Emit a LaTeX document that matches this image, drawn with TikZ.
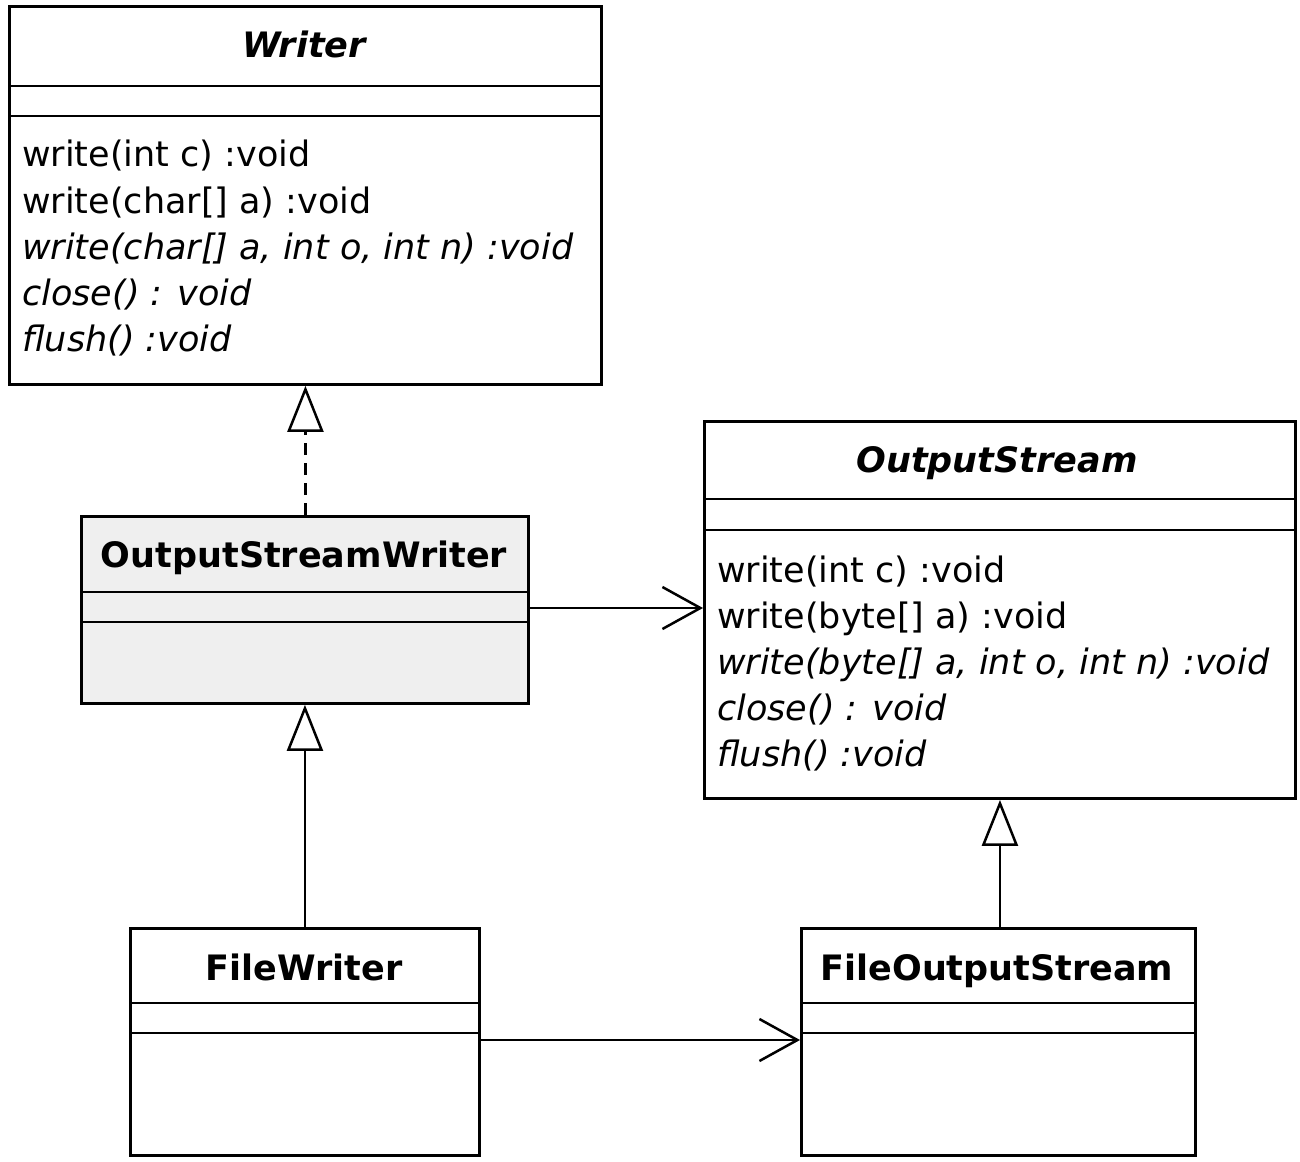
\documentclass[tikz,border=0pt]{standalone}
\usepackage{fontspec}
\setmainfont{DejaVu Sans}
\usetikzlibrary{arrows.meta}
\definecolor{boxgray}{RGB}{239,239,239}
\tikzset{
  umlbox/.style={draw=black, line width=2.9pt, fill=white, rectangle, inner sep=0pt, anchor=north west},
  sepline/.style={line width=2.8pt},
  conn/.style={line width=2.5pt},
  realize/.style={conn, dash pattern=on 12pt off 8pt, -{Triangle[open, length=46pt, width=36pt, line width=2.5pt]}},
  inherit/.style={conn, -{Triangle[open, length=46pt, width=36pt, line width=2.5pt]}},
  assoc/.style={conn, -{Straight Barb[length=38pt, width=42pt, line width=2.5pt]}},
  titletxt/.style={font=\fontsize{35}{35}\selectfont\bfseries, anchor=base},
  abstitle/.style={font=\fontsize{35}{35}\selectfont\bfseries\itshape, anchor=base},
  optxt/.style={font=\fontsize{35}{35}\selectfont, anchor=base west, inner sep=0pt},
  absop/.style={font=\fontsize{35}{35}\selectfont\itshape, anchor=base west, inner sep=0pt},
}
\begin{document}
\begin{tikzpicture}[x=1pt,y=-1pt]
\useasboundingbox (0,0) rectangle (1300,1161);
% Writer
\node[umlbox, minimum width=592pt, minimum height=378pt] (writer) at (8,5) {};
\draw[sepline] (8,86) -- (600,86);
\draw[sepline] (8,116) -- (600,116);
\node[abstitle] (writerT) at (304,58) {Writer};
\node[optxt] (w1) at (22,167) {write(int c) :void};
\node[optxt] (w2) at (22,213) {write(char[] a) :void};
\node[absop] (w3) at (22,259) {write(char[] a, int o, int n) :void};
\node[absop] (w4) at (22,305) {close() : void};
\node[absop] (w5) at (22,351) {flush() :void};
% OutputStream
\node[umlbox, minimum width=591pt, minimum height=377pt] (os) at (703,420) {};
\draw[sepline] (703,499) -- (1294,499);
\draw[sepline] (703,530) -- (1294,530);
\node[abstitle] (osT) at (997,472) {OutputStream};
\node[optxt] (o1) at (717,582) {write(int c) :void};
\node[optxt] (o2) at (717,628) {write(byte[] a) :void};
\node[absop] (o3) at (717,674) {write(byte[] a, int o, int n) :void};
\node[absop] (o4) at (717,720) {close() : void};
\node[absop] (o5) at (717,766) {flush() :void};
% OutputStreamWriter
\node[umlbox, fill=boxgray, minimum width=447pt, minimum height=187pt] (osw) at (80,515) {};
\draw[sepline] (80,592) -- (527,592);
\draw[sepline] (80,622) -- (527,622);
\node[titletxt] (oswT) at (304,567) {OutputStreamWriter};
% FileWriter
\node[umlbox, minimum width=349pt, minimum height=227pt] (fw) at (129,927) {};
\draw[sepline] (129,1003) -- (478,1003);
\draw[sepline] (129,1033) -- (478,1033);
\node[titletxt] (fwT) at (304,980) {FileWriter};
% FileOutputStream
\node[umlbox, minimum width=394pt, minimum height=227pt] (fos) at (800,927) {};
\draw[sepline] (800,1003) -- (1194,1003);
\draw[sepline] (800,1033) -- (1194,1033);
\node[titletxt] (fosT) at (997,980) {FileOutputStream};
% connectors
\draw[realize] (osw.north -| writer.south) -- (writer.south);
\draw[inherit] (fw.north) -- (fw.north |- osw.south);
\draw[inherit] (fos.north -| os.south) -- (os.south);
\coordinate (a1s) at (527,608);
\coordinate (a1e) at (703,608);
\draw[assoc] (a1s) -- (a1e);
\coordinate (a2s) at (478,1040);
\coordinate (a2e) at (800,1040);
\draw[assoc] (a2s) -- (a2e);
\end{tikzpicture}
\end{document}
